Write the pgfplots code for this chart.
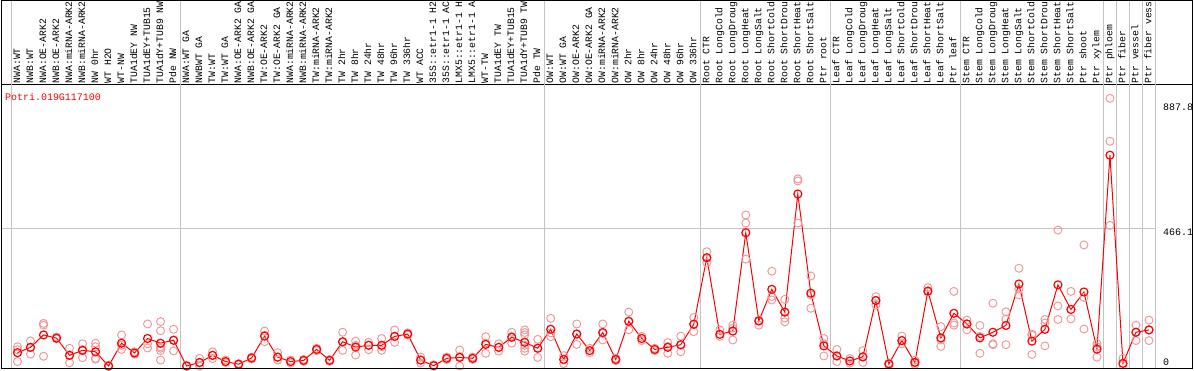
\documentclass[border=0pt]{standalone}
\usepackage{pgfplots}
\pgfplotsset{compat=1.18}
\usepackage{pgfplotstable}
\usepackage{fontspec}
\newfontfamily\mono{Liberation Mono}
\definecolor{rep}{RGB}{240,155,155}
\definecolor{sep}{RGB}{195,195,195}

\pgfplotstableread{
k v
0 45
1 63
2 105
3 94
4 36
5 53
6 48
7 0
8 77
9 44
10 93
11 77
12 87
13 0
14 12
15 36
16 15
17 6
18 27
19 101
20 30
21 15
22 19
23 56
24 19
25 82
26 64
27 70
28 70
29 100
30 108
31 20
32 1
33 26
34 29
35 26
36 73
37 63
38 97
39 80
40 60
41 124
42 22
43 108
44 52
45 113
46 22
47 151
48 93
49 56
50 63
51 72
52 141
53 366
54 107
55 118
56 450
57 152
58 259
59 182
60 581
61 246
62 68
63 34
64 17
65 31
66 221
67 7
68 86
69 12
70 253
71 95
72 178
73 142
74 95
75 114
76 137
77 277
78 84
79 124
80 274
81 191
82 250
83 57
84 712
85 9
86 114
87 122
}\means

\pgfplotstableread{
k v
0 65
0 55
0 15
1 85
1 63
1 40
2 144
2 138
2 33
3 98
3 92
4 60
4 38
4 11
5 75
5 55
5 28
6 77
6 65
6 26
6 23
7 3
7 0
8 105
8 70
8 56
9 48
9 40
10 142
10 75
10 61
11 150
11 119
11 65
11 60
11 52
11 20
12 124
12 87
12 51
13 2
13 0
14 26
14 10
14 0
15 48
15 36
15 25
16 20
16 12
17 8
17 4
18 30
18 24
19 118
19 104
19 82
20 45
20 30
20 20
21 20
21 10
22 22
22 16
23 60
23 52
24 22
24 16
25 114
25 80
25 53
26 84
26 70
26 37
27 80
27 70
27 55
28 93
28 65
28 53
29 122
29 100
29 80
30 112
30 104
31 30
31 20
31 10
32 4
32 0
33 30
33 22
34 54
34 32
34 0
35 30
35 22
36 99
36 78
36 43
37 75
37 63
37 50
38 114
38 100
38 77
39 122
39 113
39 105
39 70
39 60
39 50
40 90
40 60
40 29
41 161
41 112
41 99
42 35
42 22
42 8
43 142
43 108
43 73
44 60
44 45
45 142
45 110
45 88
46 26
46 18
47 182
47 150
47 122
48 100
48 86
49 60
49 52
50 79
50 66
50 43
51 101
51 70
51 48
52 164
52 142
52 116
53 386
53 363
53 349
54 122
54 100
55 138
55 128
55 88
56 510
56 483
56 361
57 155
57 138
58 320
58 235
58 223
59 225
59 182
59 162
59 149
60 632
60 625
60 483
61 304
61 240
61 195
62 93
62 75
62 34
63 56
63 34
63 15
64 25
64 10
65 52
65 30
65 12
66 234
66 222
66 206
67 10
67 4
68 101
68 86
68 75
69 20
69 12
69 5
70 265
70 250
71 133
71 88
71 66
72 252
72 145
72 138
73 155
73 142
73 122
74 137
74 100
74 43
75 212
75 75
75 72
76 183
76 158
76 72
77 330
77 260
77 240
78 108
78 104
78 39
79 157
79 145
79 68
80 459
80 203
80 157
81 252
81 159
82 409
82 232
82 125
83 76
83 65
83 30
84 904
84 759
84 475
85 26
85 3
86 138
86 114
86 86
87 155
87 122
87 86
}\reps

\begin{document}
\begin{tikzpicture}[x=1bp,y=1bp]
\useasboundingbox (0,0) rectangle (1194,370);
\clip (0,0) rectangle (1194,370);
\begin{axis}[
  at={(1bp,2bp)}, anchor=south west,
  scale only axis, width=1191bp, height=283bp,
  xmin=-1.269, xmax=90.31, ymin=-6.75, ymax=949.1,
  axis line style={black, line width=1bp},
  xtick={0,...,87},
  xticklabels={{NWA:WT},{NWB:WT},{NWA:OE-ARK2},{NWB:OE-ARK2},{NWA:miRNA-ARK2},{NWB:miRNA-ARK2},{NW 0hr},{WT H2O},{WT-NW},{TUA1dEY NW},{TUA1dEY+TUB15},{TUA1dY+TUB9 NW},{Pde NW},
  {NWA:WT GA},{NWBWT GA},{TW:WT},{TW:WT GA},{NWA:OE-ARK2 GA},{NWB:OE-ARK2 GA},{TW:OE-ARK2},{TW:OE-ARK2 GA},{NWA:miRNA-ARK2},{NWB:miRNA-ARK2},{TW:miRNA-ARK2},{TW:miRNA-ARK2},{TW 2hr},{TW 8hr},{TW 24hr},{TW 48hr},{TW 96hr},{TW 336hr},{WT ACC},{35S::etr1-1 H2},{35S::etr1-1 AC},{LMX5::etr1-1 H},{LMX5::etr1-1 A},{WT-TW},{TUA1dEY TW},{TUA1dEY+TUB15},{TUA1dY+TUB9 TW},{Pde TW},
  {OW:WT},{OW:WT GA},{OW:OE-ARK2},{OW:OE-ARK2 GA},{OW:miRNA-ARK2},{OW:miRNA-ARK2},{OW 2hr},{OW 8hr},{OW 24hr},{OW 48hr},{OW 96hr},{OW 336hr},
  {Root CTR},{Root LongCold},{Root LongDroug},{Root LongHeat},{Root LongSalt},{Root ShortCold},{Root ShortDrou},{Root ShortHeat},{Root ShortSalt},{Ptr root},
  {Leaf CTR},{Leaf LongCold},{Leaf LongDroug},{Leaf LongHeat},{Leaf LongSalt},{Leaf ShortCold},{Leaf ShortDrou},{Leaf ShortHeat},{Leaf ShortSalt},{Ptr leaf},
  {Stem CTR},{Stem LongCold},{Stem LongDroug},{Stem LongHeat},{Stem LongSalt},{Stem ShortCold},{Stem ShortDrou},{Stem ShortHeat},{Stem ShortSalt},{Ptr shoot},{Ptr xylem},
  {Ptr phloem},{Ptr fiber},{Ptr vessel},{Ptr fiber vess}},
  xticklabel pos=upper,
  major tick length=0pt,
  xticklabel style={rotate=90, anchor=west, font=\mono\fontsize{9.8}{10}\selectfont, inner xsep=1.5bp, inner ysep=0pt, text height=7bp, text depth=2bp},
  ytick=\empty,
  clip=false,
]
\pgfplotsinvokeforeach{-0.5,12.5,40.5,52.5,62.5,72.5,83.5,84.5,85.5,86.5,87.5}{
  \draw[sep, line width=1bp] (axis cs:#1,-6.75) -- (axis cs:#1,1240);
}
\draw[sep, line width=1bp] (axis cs:-1.269,466.1) -- (axis cs:87.5,466.1);
\addplot[only marks, mark=o, mark size=4bp, color=rep, mark options={line width=1bp}] table[x=k, y=v] {\reps};
\addplot[red, line width=1bp, mark=o, mark size=4bp, mark options={line width=1.2bp}] table[x=k, y=v] {\means};
\node[anchor=west, inner sep=0pt, red, font=\mono\fontsize{10}{10}\selectfont] at (rel axis cs:0,1) [xshift=4bp, yshift=-12bp] {Potri.019G117100};
\node[anchor=west, inner sep=0pt, font=\mono\fontsize{10}{10}\selectfont, yshift=-4bp] at (axis cs:88.08,887.8) {887.8};
\node[anchor=west, inner sep=0pt, font=\mono\fontsize{10}{10}\selectfont, yshift=-4bp] at (axis cs:88.08,466.1) {466.1};
\node[anchor=west, inner sep=0pt, font=\mono\fontsize{10}{10}\selectfont, yshift=4bp] at (axis cs:88.08,0) {0};
\end{axis}
\draw[black, line width=1bp] (1,2) rectangle (1192,369.5);
\end{tikzpicture}
\end{document}
